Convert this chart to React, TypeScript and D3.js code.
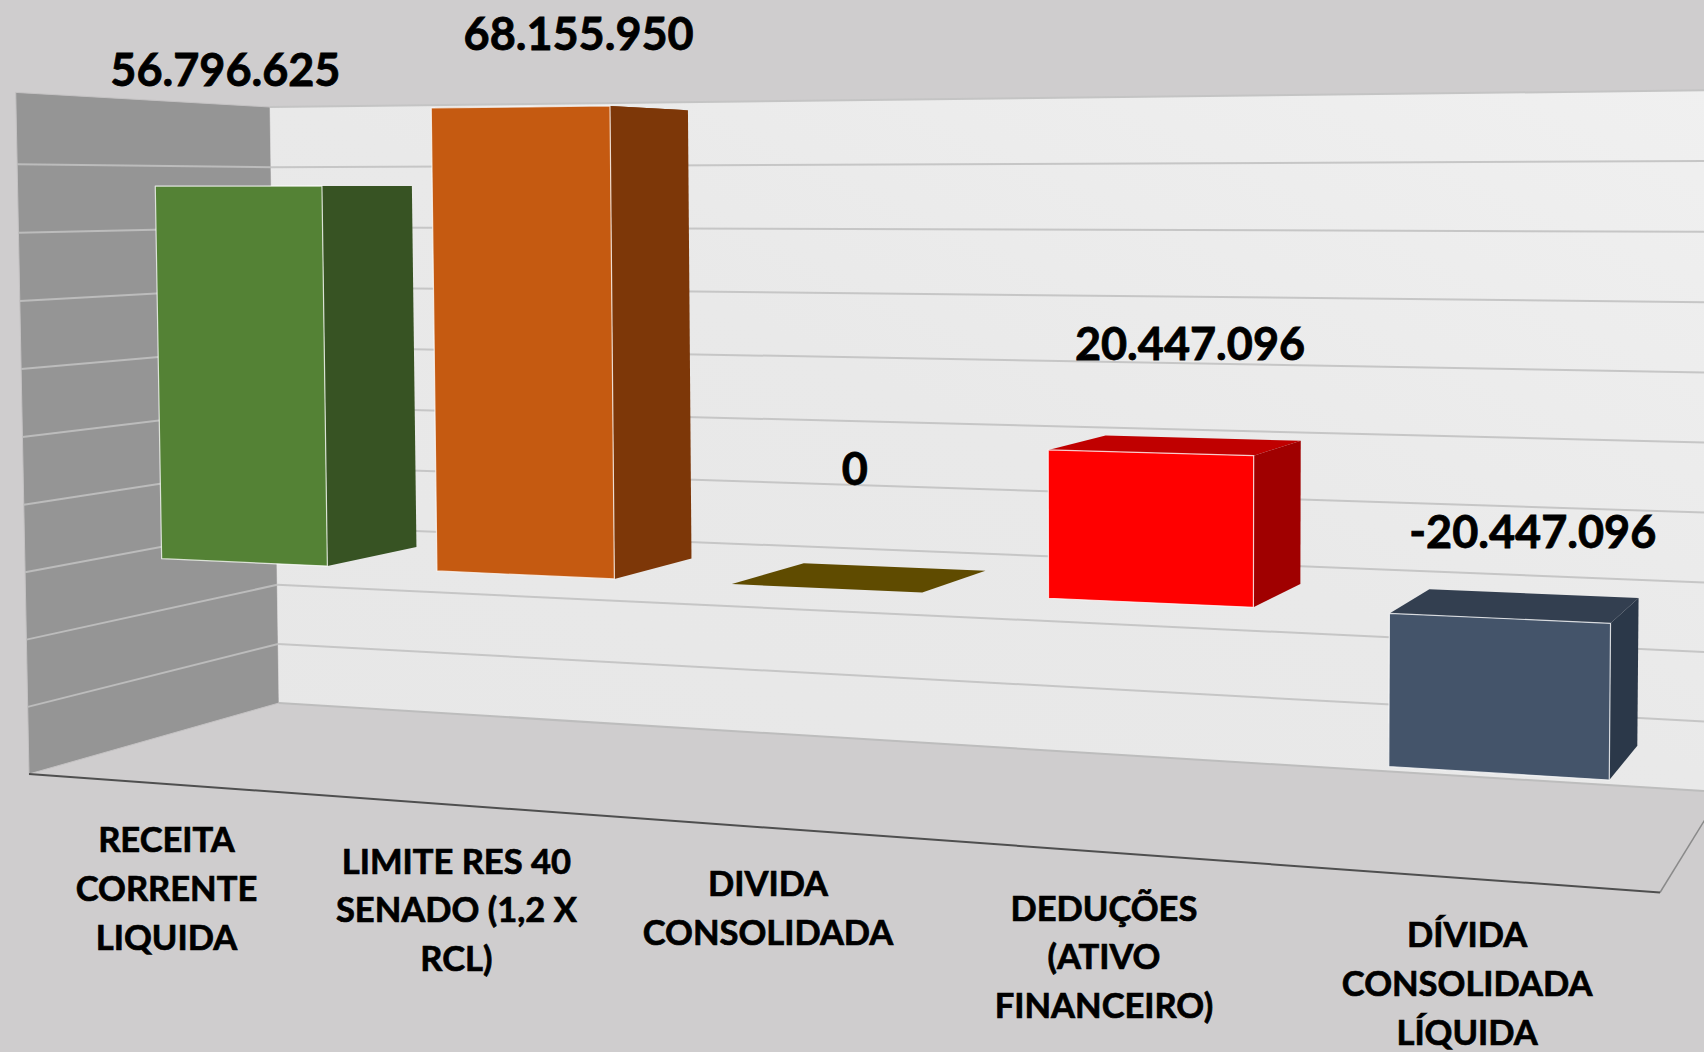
import React from 'react';
import * as d3 from 'd3';

const categories = [
  ['RECEITA', 'CORRENTE', 'LIQUIDA'],
  ['LIMITE RES 40', 'SENADO (1,2 X', 'RCL)'],
  ['DIVIDA', 'CONSOLIDADA'],
  ['DEDUÇÕES', '(ATIVO', 'FINANCEIRO)'],
  ['DÍVIDA', 'CONSOLIDADA', 'LÍQUIDA'],
];
const values = [56796625, 68155950, 0, 20447096, -20447096];
const valueLabels = ['56.796.625', '68.155.950', '0', '20.447.096', '-20.447.096'];
const valueDomain = [-30000000, 70000000];

const frontColors = ['#548235', '#c55a11', '#5f4b00', '#ff0000', '#44546a'];
const sideColors = ['#375323', '#7d3708', '#5f4b00', '#a00000', '#2b3849'];
const topColors = ['#375323', '#7d3708', '#5f4b00', '#c00000', '#333f50'];

// hand placed in the original chart, so they are nudged from the top of each bar
const labelOffsets = [[-59, -100], [18, -59], [-5, -93], [14, -85], [17, -58]];

const WIDTH = 1704;
const HEIGHT = 1052;

// room corners on screen, used to calibrate the perspective
const backBottomLeft = [279, 703];
const backBottomRight = [1722, 792];
const backTopLeft = [270, 107];
const backTopRight = [1729, 90];
const floorFrontLeft = [29, 774];
const floorFrontRight = [1660, 889];

function makeProjection() {
  const [x00, y00] = backBottomLeft;
  const [x10, y10] = backBottomRight;
  const [x01, y01] = backTopLeft;
  const [x11, y11] = backTopRight;
  const dx1 = x10 - x11;
  const dx2 = x01 - x11;
  const sx = x00 - x10 + x11 - x01;
  const dy1 = y10 - y11;
  const dy2 = y01 - y11;
  const sy = y00 - y10 + y11 - y01;
  const den = dx1 * dy2 - dx2 * dy1;
  const g = (sx * dy2 - dx2 * sy) / den;
  const h = (dx1 * sy - sx * dy1) / den;
  const A = [x10 - x00 + g * x10, y10 - y00 + g * y10, g];
  const B = [x01 - x00 + h * x01, y01 - y00 + h * y01, h];
  const C = [x00, y00, 1];
  const s = (A[0] - floorFrontRight[0] * A[2]) / (floorFrontRight[0] - floorFrontLeft[0]);
  const D = [s * floorFrontLeft[0] - C[0], s * floorFrontLeft[1] - C[1], s - C[2]];
  // u along categories, v up the value axis, d from back wall (0) to front (1)
  return (u: number, v: number, d: number): [number, number] => {
    const w = C[2] + A[2] * u + B[2] * v + D[2] * d;
    return [
      (C[0] + A[0] * u + B[0] * v + D[0] * d) / w,
      (C[1] + A[1] * u + B[1] * v + D[1] * d) / w,
    ];
  };
}

const project = makeProjection();
const line = d3.line();
const poly = (pts: [number, number][]) => line(pts) + 'Z';

const uScale = d3.scaleBand<number>()
  .domain(d3.range(categories.length))
  .range([0, 1])
  .paddingInner(0.39)
  .paddingOuter(0.195);
const vScale = d3.scaleLinear().domain(valueDomain).range([0, 1]);
const depthScale = d3.scaleLinear().domain([0, 1]).range([0.3, 0.69]);

const edge = { stroke: '#ffffff', strokeOpacity: 0.75, strokeWidth: 1.2, strokeLinejoin: 'round' as const };

function Bar({ i }: { i: number }) {
  const u0 = uScale(i) as number;
  const u1 = u0 + uScale.bandwidth();
  const vTop = vScale(Math.max(values[i], 0));
  const vBot = vScale(Math.min(values[i], 0));
  const d0 = depthScale(0);
  const d1 = depthScale(1);
  if (values[i] === 0) {
    return (
      <path
        d={poly([project(u0, vTop, d1), project(u1, vTop, d1), project(u1, vTop, d0), project(u0, vTop, d0)])}
        fill={topColors[i]}
      />
    );
  }
  return (
    <g>
      <path
        d={poly([project(u0, vTop, d1), project(u1, vTop, d1), project(u1, vTop, d0), project(u0, vTop, d0)])}
        fill={topColors[i]}
      />
      <path
        d={poly([project(u1, vTop, d1), project(u1, vTop, d0), project(u1, vBot, d0), project(u1, vBot, d1)])}
        fill={sideColors[i]}
      />
      <path
        d={poly([project(u0, vTop, d1), project(u1, vTop, d1), project(u1, vBot, d1), project(u0, vBot, d1)])}
        fill={frontColors[i]}
        {...edge}
      />
    </g>
  );
}

export default function App() {
  const ticks = vScale.ticks(10);
  const floor = [project(0, 0, 1), project(1, 0, 1), project(1, 0, 0), project(0, 0, 0)] as [number, number][];
  const leftWall = [project(0, 0, 1), project(0, 1.005, 1), project(0, 1, 0), project(0, 0, 0)] as [number, number][];
  const backWall = [project(0, 0, 0), project(1, 0, 0), project(1, 1, 0), project(0, 1, 0)] as [number, number][];

  return (
    <svg
      width={WIDTH}
      height={HEIGHT}
      viewBox={`0 0 ${WIDTH} ${HEIGHT}`}
      style={{ position: 'absolute', left: 0, top: 0, fontFamily: 'Lato', fontWeight: 700 }}
    >
      <defs>
        <linearGradient id="wallShade" x1="0" y1="1" x2="1" y2="0">
          <stop offset="0" stopColor="#e7e7e7" />
          <stop offset="0.5" stopColor="#e9e9e9" />
          <stop offset="1" stopColor="#f0f0f0" />
        </linearGradient>
      </defs>
      <rect width={WIDTH} height={HEIGHT} fill="#cfcdce" />

      <path d={poly(floor)} fill="#cfcdce" />
      <path d={poly(leftWall)} fill="#959595" stroke="#c4c2c3" strokeWidth={1} />
      <path d={poly(backWall)} fill="url(#wallShade)" />

      {ticks.filter((t) => t > valueDomain[0] && t < valueDomain[1]).map((t) => {
        const v = vScale(t);
        return (
          <g key={t} fill="none" strokeWidth={2}>
            <path d={line([project(0, v, 1), project(0, v, 0)]) as string} stroke="#bcbcbc" />
            <path d={line([project(0, v, 0), project(1, v, 0)]) as string} stroke="#c6c6c6" />
          </g>
        );
      })}
      <path d={line([project(0, 1, 0), project(1, 1, 0)]) as string} stroke="#c4c4c4" strokeWidth={2} fill="none" />
      <path d={line([project(0, 0, 0), project(1, 0, 0)]) as string} stroke="#bdbdbd" strokeWidth={2} fill="none" />
      <path d={line([project(1, 0, 1), project(1, 0, 0)]) as string} stroke="#8a8a8a" strokeWidth={1.5} fill="none" />
      <path d={line([project(0, 0, 1), project(1, 0, 1)]) as string} stroke="#4f4f4f" strokeWidth={2} fill="none" />

      {values.map((_, i) => <Bar key={i} i={i} />)}

      {valueLabels.map((label, i) => {
        const center = (uScale(i) as number) + uScale.bandwidth() / 2;
        const [x, y] = project(center, vScale(Math.max(values[i], 0)), 0.5);
        return (
          <text
            key={label}
            x={x + labelOffsets[i][0]}
            y={y + labelOffsets[i][1]}
            textAnchor="middle"
            fontSize={45}
            fill="#000000"
            stroke="#000000"
            strokeWidth={0.8}
          >
            {label}
          </text>
        );
      })}

      {categories.map((lines, i) => {
        const center = (uScale(i) as number) + uScale.bandwidth() / 2;
        const [x, y] = project(center, 0, 1);
        return (
          <text key={i} textAnchor="middle" fontSize={34.5} fill="#000000" stroke="#000000" strokeWidth={0.7}>
            {lines.map((t, j) => (
              <tspan key={j} x={x} y={y + 68.5 + j * 48.8}>{t}</tspan>
            ))}
          </text>
        );
      })}
    </svg>
  );
}
